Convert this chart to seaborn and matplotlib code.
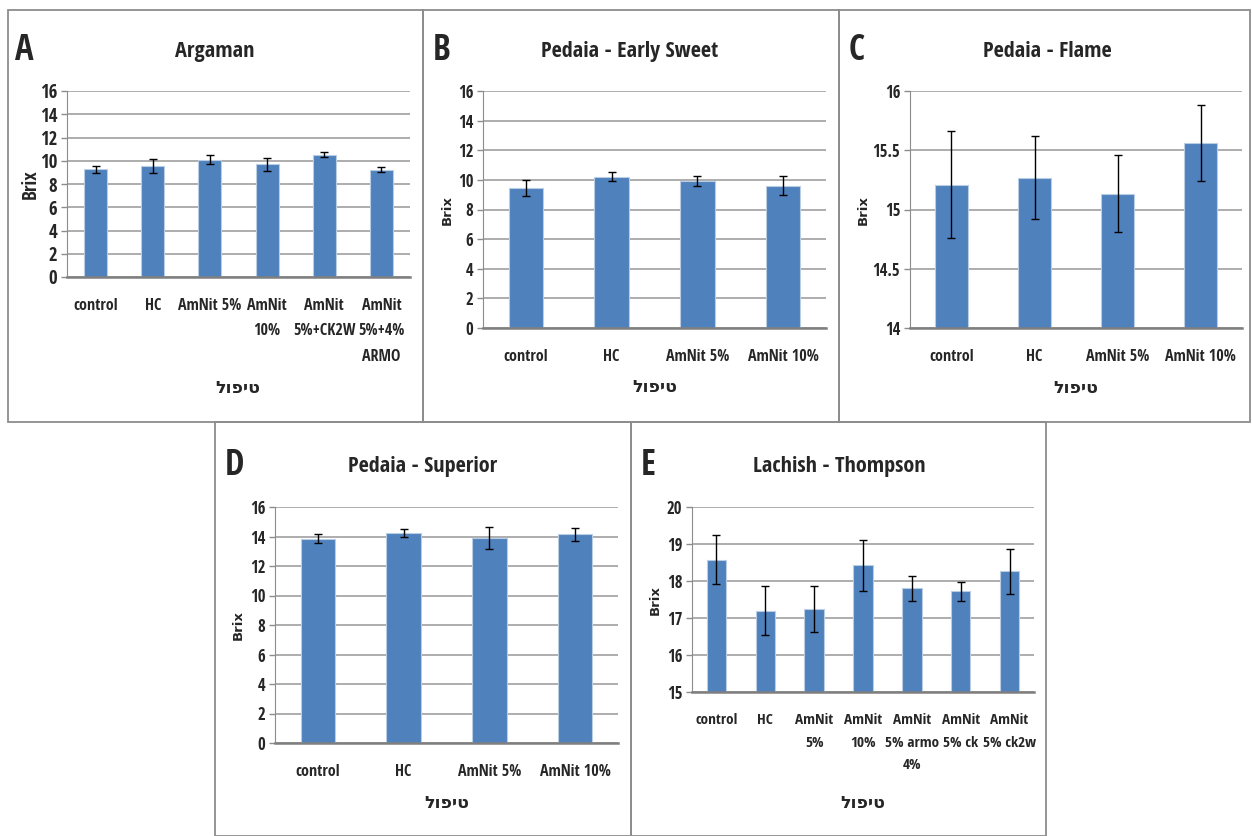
import numpy as np
import pandas as pd
import seaborn as sns
import matplotlib.pyplot as plt
from matplotlib.patches import Rectangle

# A - Argaman
a_labels = ['control', 'HC', 'AmNit 5%', 'AmNit\n10%', 'AmNit\n5%+CK2W', 'AmNit\n5%+4%\nARMO']
a_brix = [9.26, 9.54, 10.10, 9.71, 10.50, 9.23]
a_err = [0.30, 0.60, 0.40, 0.55, 0.22, 0.23]
a_ticks = [0, 2, 4, 6, 8, 10, 12, 14, 16]

# B - Pedaia - Early Sweet
b_labels = ['control', 'HC', 'AmNit 5%', 'AmNit 10%']
b_brix = [9.48, 10.22, 9.91, 9.62]
b_err = [0.54, 0.30, 0.35, 0.64]
b_ticks = [0, 2, 4, 6, 8, 10, 12, 14, 16]

# C - Pedaia - Flame
c_labels = ['control', 'HC', 'AmNit 5%', 'AmNit 10%']
c_brix = [15.21, 15.27, 15.135, 15.56]
c_err = [0.45, 0.35, 0.325, 0.32]
c_ticks = [14, 14.5, 15, 15.5, 16]

# D - Pedaia - Superior
d_labels = ['control', 'HC', 'AmNit 5%', 'AmNit 10%']
d_brix = [13.86, 14.24, 13.90, 14.15]
d_err = [0.28, 0.25, 0.77, 0.45]
d_ticks = [0, 2, 4, 6, 8, 10, 12, 14, 16]

# E - Lachish - Thompson
e_labels = ['control', 'HC', 'AmNit\n5%', 'AmNit\n10%', 'AmNit\n5% armo\n4%', 'AmNit\n5% ck', 'AmNit\n5% ck2w']
e_brix = [18.58, 17.20, 17.25, 18.42, 17.80, 17.72, 18.26]
e_err = [0.65, 0.67, 0.62, 0.69, 0.33, 0.26, 0.61]
e_ticks = [15, 16, 17, 18, 19, 20]

xlabel_he = 'טיפול'

sns.set_style('white')
plt.rcParams['font.family'] = ['Open Sans Condensed', 'Liberation Sans', 'DejaVu Sans']

W, H = 1252, 836
fig = plt.figure(figsize=(W / 100, H / 100), dpi=100)
BLUE = '#4f81bd'


def fx(x):
    return x / W


def fy(y):
    return 1 - y / H


def panel(box, axrect, letter, lpos, title, tpos, bpos, xpos,
          labels, brix, err, ticks, ytick_fs=12, xtick_fs=11.5, brix_narrow=False):
    # frame around the panel
    fig.add_artist(Rectangle((fx(box[0]), fy(box[3])), fx(box[2] - box[0]), (box[3] - box[1]) / H,
                             transform=fig.transFigure, fill=False, edgecolor='#8c8c8c', lw=1.3))
    x0, y0, x1, y1 = axrect
    ax = fig.add_axes([fx(x0), fy(y1), fx(x1 - x0), (y1 - y0) / H])
    df = pd.DataFrame({'treatment': labels, 'brix': brix})
    sns.barplot(data=df, x='treatment', y='brix', color=BLUE, saturation=1, width=0.4,
                edgecolor='#b9cde5', linewidth=0.8, errorbar=None, ax=ax)
    ax.errorbar(range(len(brix)), brix, yerr=err, fmt='none', ecolor='black',
                elinewidth=1, capsize=3, capthick=1, zorder=5)
    ax.set_xlim(-0.5, len(labels) - 0.5)
    ax.set_ylim(ticks[0], ticks[-1])
    ax.set_yticks(ticks)
    ax.set_yticklabels([('%g' % t) for t in ticks])
    ax.yaxis.grid(True, color='#a0a0a0', lw=1.2)
    ax.set_axisbelow(True)
    for s in ['top', 'right']:
        ax.spines[s].set_visible(False)
    ax.spines['left'].set_color('#8c8c8c')
    ax.spines['bottom'].set_color('#7f7f7f')
    ax.spines['bottom'].set_linewidth(1.8)
    ax.tick_params(axis='x', length=0, pad=15, labelsize=xtick_fs)
    ax.tick_params(axis='y', length=4, width=1, color='#8c8c8c', labelsize=ytick_fs, pad=3, left=True)
    for t in ax.get_xticklabels():
        t.set_fontweight('bold')
        t.set_linespacing(1.8)
    for t in ax.get_yticklabels():
        t.set_fontweight('bold')
    ax.set_xlabel('')
    ax.set_ylabel('')

    fig.text(fx(lpos[0]), fy(lpos[1]), letter, fontsize=25, fontweight='bold', va='baseline', ha='left')
    fig.text(fx(tpos[0]), fy(tpos[1]), title, fontsize=16, fontweight='bold', va='baseline', ha='center')
    if brix_narrow:
        fig.text(fx(bpos[0]), fy(bpos[1]), 'Brix', fontsize=14, fontweight='bold',
                 rotation=90, ha='center', va='center')
    else:
        fig.text(fx(bpos[0]), fy(bpos[1]), 'Brix', fontsize=9.5, fontweight='bold',
                 family='DejaVu Sans', rotation=90, ha='center', va='center')
    # Hebrew is drawn left to right by matplotlib, so reverse it for display
    fig.text(fx(xpos[0]), fy(xpos[1]), xlabel_he[::-1], fontsize=12.5, fontweight='bold',
             family=['DejaVu Sans'], ha='center', va='center')
    return ax


panel((8, 10, 423, 422), (67, 91, 410, 277), 'A', (15, 60), 'Argaman', (215, 57), (31, 184), (238, 388),
      a_labels, a_brix, a_err, a_ticks, ytick_fs=13.5, brix_narrow=True)
panel((423, 10, 839, 422), (483, 91, 826, 328), 'B', (433, 60), 'Pedaia - Early Sweet', (630, 57),
      (447, 210), (655, 387), b_labels, b_brix, b_err, b_ticks)
panel((839, 10, 1250, 422), (910, 91, 1242, 328), 'C', (849, 60), 'Pedaia - Flame', (1047, 57),
      (863, 210), (1076, 388), c_labels, c_brix, c_err, c_ticks)
panel((215, 422, 631, 836), (275, 507, 618, 743), 'D', (225, 475), 'Pedaia - Superior', (423, 472),
      (238, 625), (447, 803), d_labels, d_brix, d_err, d_ticks)
panel((631, 422, 1046, 836), (692, 507, 1034, 692), 'E', (641, 475), 'Lachish - Thompson', (839, 472),
      (655, 600), (863, 803), e_labels, e_brix, e_err, e_ticks, xtick_fs=11)

plt.savefig('out.png', dpi=100)
